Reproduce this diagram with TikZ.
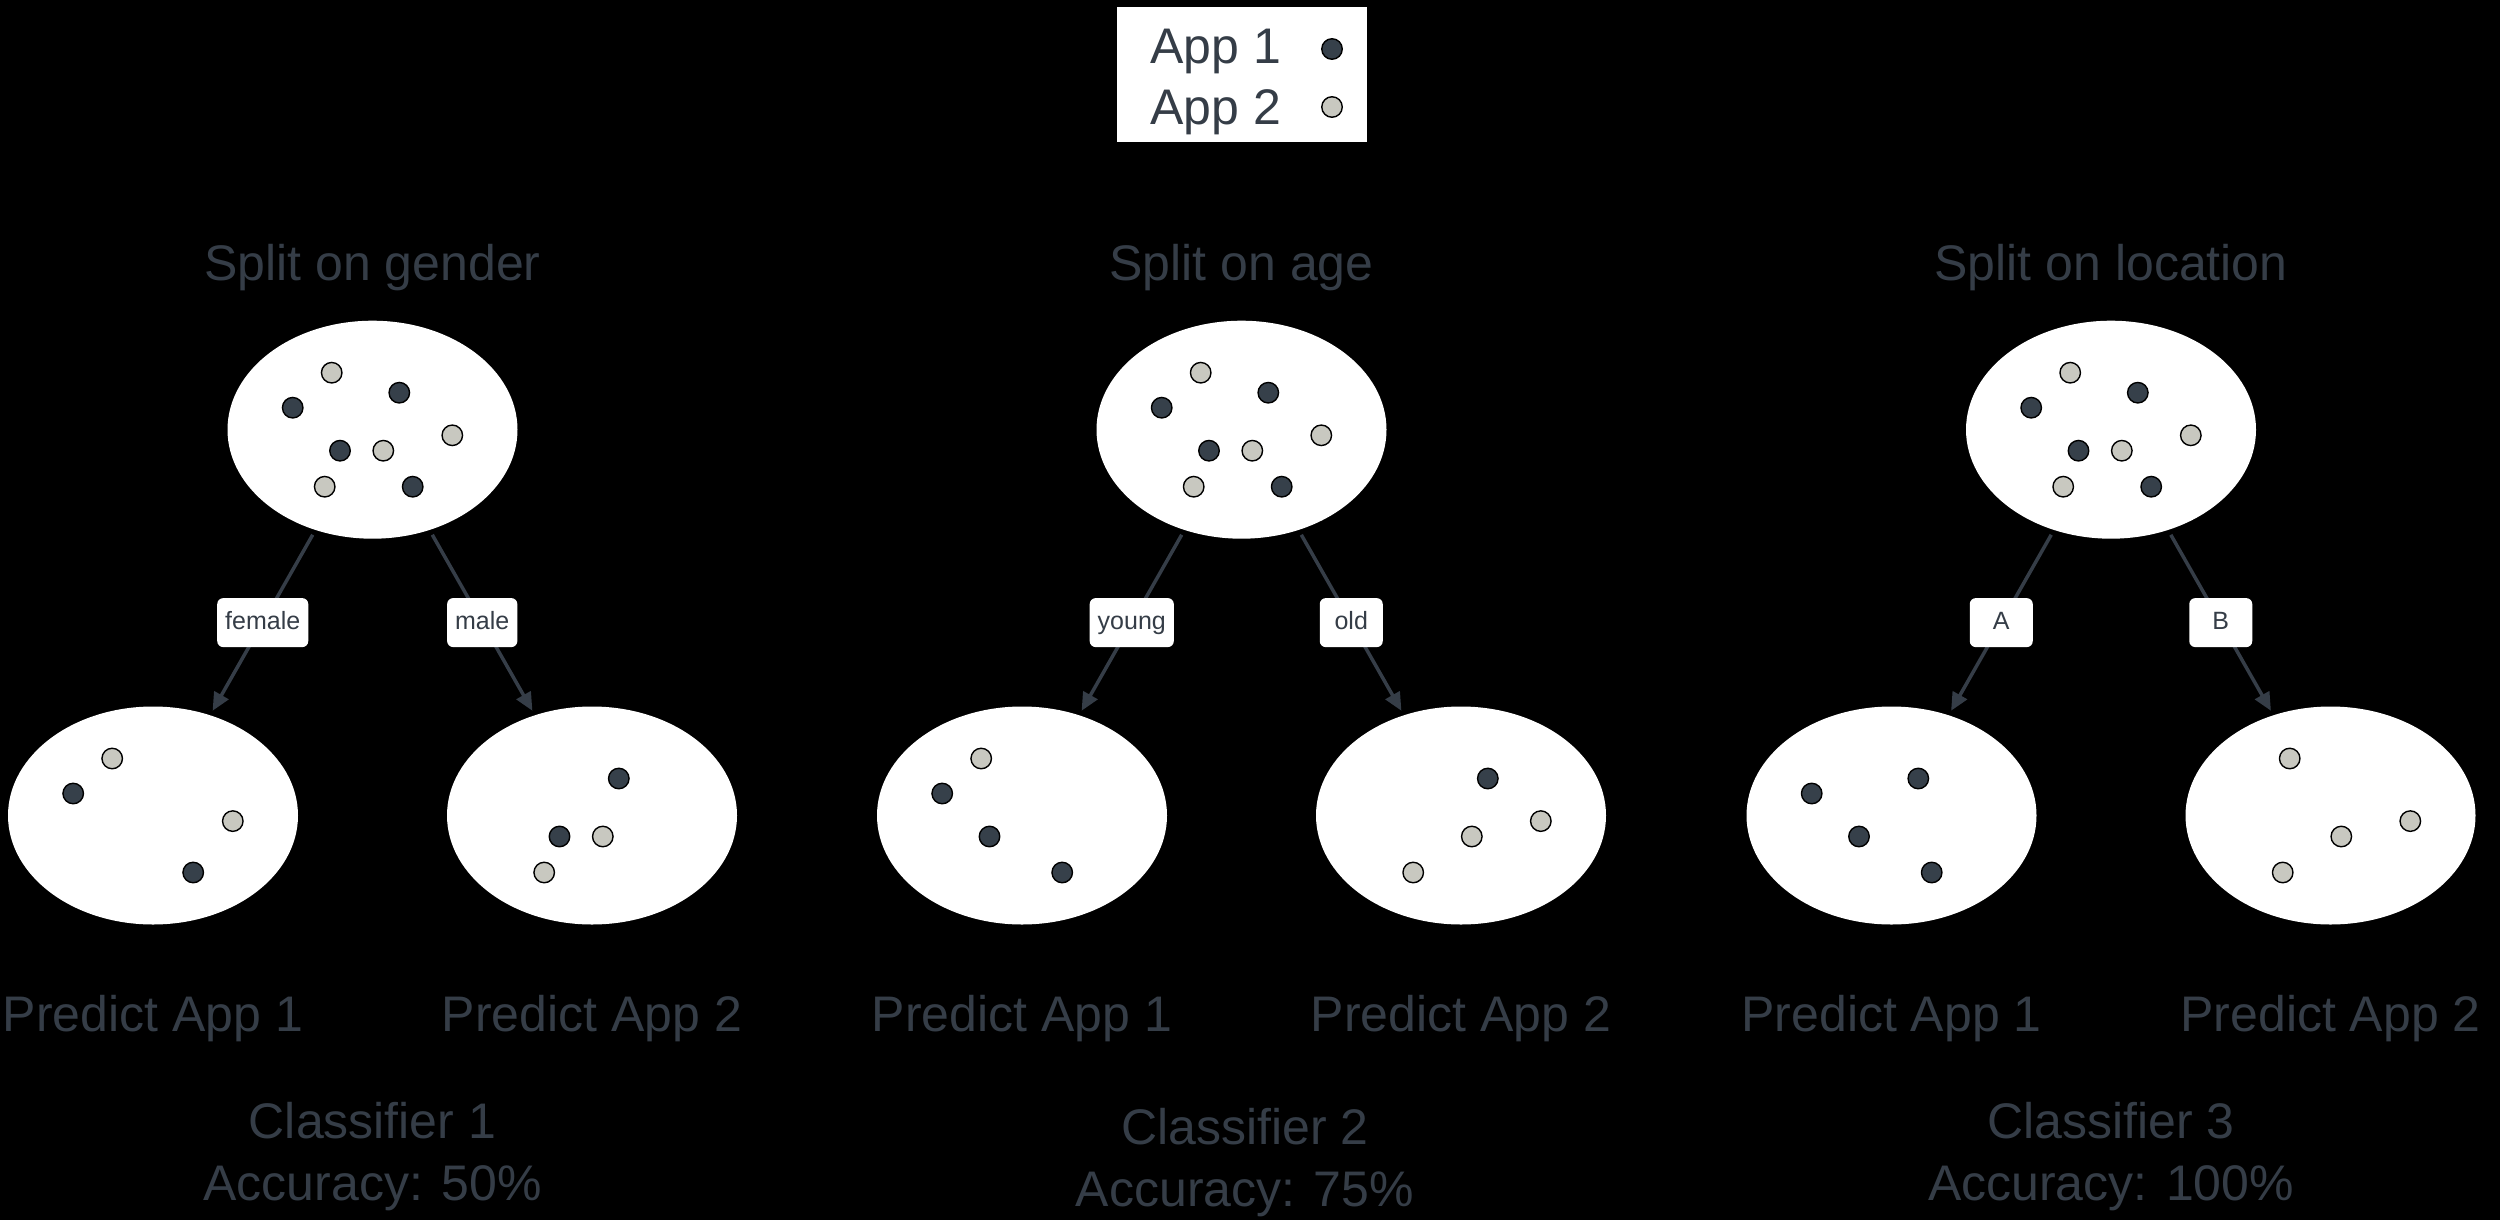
\documentclass[tikz,border=0pt]{standalone}
\usepackage{fontspec}
\setmainfont{Liberation Sans}
\usetikzlibrary{arrows.meta,shapes.geometric}
\definecolor{txt}{HTML}{353D47}
\definecolor{cdark}{HTML}{36404A}
\definecolor{clight}{HTML}{C8C8C0}
\tikzset{
  grp/.style={ellipse, fill=white, minimum width=145pt, minimum height=109pt, inner sep=0pt},
  appone/.style={circle, fill=cdark, draw=black, line width=0.7pt, minimum size=10.25pt, inner sep=0pt},
  apptwo/.style={circle, fill=clight, draw=black, line width=0.7pt, minimum size=10.25pt, inner sep=0pt},
  big/.style={font=\fontsize{25pt}{30pt}\selectfont, text=txt, inner sep=0pt, anchor=base},
  lbl/.style={fill=white, rounded corners=3pt, font=\fontsize{12.5pt}{15pt}\selectfont, text=txt,
    inner xsep=4pt, inner ysep=0pt, minimum width=31.5pt, minimum height=24.5pt,
    text height=9pt, text depth=2.6pt},
  conn/.style={draw=txt, line width=1.75pt, -{Triangle[length=9pt,width=8pt]}, shorten >=2.4pt, shorten <=2.6pt},
}
\expandafter\def\csname mydot1\endcsname#1{\node[apptwo] (#1-1) at ([shift={(-40.8,-57)}]#1.center) {};}
\expandafter\def\csname mydot2\endcsname#1{\node[appone] (#1-2) at ([shift={(26.8,-37)}]#1.center) {};}
\expandafter\def\csname mydot3\endcsname#1{\node[appone] (#1-3) at ([shift={(-79.8,-22)}]#1.center) {};}
\expandafter\def\csname mydot4\endcsname#1{\node[apptwo] (#1-4) at ([shift={(79.8,5.6)}]#1.center) {};}
\expandafter\def\csname mydot5\endcsname#1{\node[appone] (#1-5) at ([shift={(-32.5,21)}]#1.center) {};}
\expandafter\def\csname mydot6\endcsname#1{\node[apptwo] (#1-6) at ([shift={(10.8,21)}]#1.center) {};}
\expandafter\def\csname mydot7\endcsname#1{\node[apptwo] (#1-7) at ([shift={(-47.8,57)}]#1.center) {};}
\expandafter\def\csname mydot8\endcsname#1{\node[appone] (#1-8) at ([shift={(40.2,57)}]#1.center) {};}
\newcommand\putdots[2]{\foreach \k in {#2}{\csname mydot\k\endcsname{#1}}}
\begin{document}
\begin{tikzpicture}[x=0.5pt,y=-0.5pt]
\fill[black] (0,0) rectangle (2500,1220);
\useasboundingbox (0,0) rectangle (2500,1220);

% legend
\node[fill=white, minimum width=125pt, minimum height=67.5pt, inner sep=0pt] (legend) at (1242,74.5) {};
\node[big, anchor=base west] (lg1) at (1150,63.3) {App 1};
\node[big, anchor=base west] (lg2) at (1150,125) {App 2};
\node[appone] (lgd1) at (1332,49) {};
\node[apptwo] (lgd2) at (1332,107) {};

% column 1
\node[big] (t1) at (372.5,280) {Split on gender};
\node[grp] (p1) at (372.5,429.7) {};
\node[grp] (a1) at (153,815.5) {};
\node[grp] (b1) at (592,815.5) {};
\putdots{p1}{1,2,3,4,5,6,7,8}
\putdots{a1}{1,3,4,8}
\putdots{b1}{2,5,6,7}
\draw[conn] (p1) -- node[lbl] (la1) {female} (a1);
\draw[conn] (p1) -- node[lbl] (lb1) {male} (b1);
\node[big] (pa1) at (153,1031.7) {Predict App 1};
\node[big] (pb1) at (592,1031.7) {Predict App 2};
\node[big] (c1) at (372.5,1138.3) {Classifier 1};
\node[big] (r1) at (372.5,1200) {Accuracy: 50\%};

% column 2
\node[big] (t2) at (1241.5,280) {Split on age};
\node[grp] (p2) at (1241.5,429.7) {};
\node[grp] (a2) at (1022,815.5) {};
\node[grp] (b2) at (1461,815.5) {};
\putdots{p2}{1,2,3,4,5,6,7,8}
\putdots{a2}{1,3,5,8}
\putdots{b2}{2,4,6,7}
\draw[conn] (p2) -- node[lbl] (la2) {young} (a2);
\draw[conn] (p2) -- node[lbl] (lb2) {old} (b2);
\node[big] (pa2) at (1022,1031.7) {Predict App 1};
\node[big] (pb2) at (1461,1031.7) {Predict App 2};
\node[big] (c2) at (1245,1144) {Classifier 2};
\node[big] (r2) at (1245,1206) {Accuracy: 75\%};

% column 3
\node[big] (t3) at (2111,280) {Split on location};
\node[grp] (p3) at (2111,429.7) {};
\node[grp] (a3) at (1891.5,815.5) {};
\node[grp] (b3) at (2330.5,815.5) {};
\putdots{p3}{1,2,3,4,5,6,7,8}
\putdots{a3}{2,3,5,8}
\putdots{b3}{1,4,6,7}
\draw[conn] (p3) -- node[lbl] (la3) {A} (a3);
\draw[conn] (p3) -- node[lbl] (lb3) {B} (b3);
\node[big] (pa3) at (1891.5,1031.7) {Predict App 1};
\node[big] (pb3) at (2330.5,1031.7) {Predict App 2};
\node[big] (c3) at (2111,1138.3) {Classifier 3};
\node[big] (r3) at (2111,1200) {Accuracy: 100\%};
\end{tikzpicture}
\end{document}
